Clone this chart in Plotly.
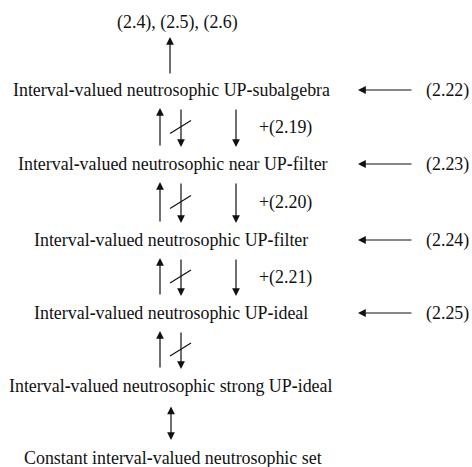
import plotly.graph_objects as go

# ---- data ----
top_label = "(2.4), (2.5), (2.6)"
nodes = [
    "Interval-valued neutrosophic UP-subalgebra",
    "Interval-valued neutrosophic near UP-filter",
    "Interval-valued neutrosophic UP-filter",
    "Interval-valued neutrosophic UP-ideal",
    "Interval-valued neutrosophic strong UP-ideal",
    "Constant interval-valued neutrosophic set",
]
implications = ["+(2.19)", "+(2.20)", "+(2.21)"]
right_refs = ["(2.22)", "(2.23)", "(2.24)", "(2.25)"]

# ---- layout (pixel coordinates) ----
W, H = 472, 467
FONT = dict(family="Liberation Serif", size=17.9, color="#111111")
top_y = 22
top_x = 177
node_y = [90, 164, 240, 313, 386, 458]
node_left = [12, 17, 33, 33, 8, 23]
up_x, cross_x, down_x = 160, 181, 236
imp_x = 258
ref_arrow_tail, ref_arrow_head = 413, 358
ref_right = 470


def bold_hyphen(s):
    return s.replace("-", "<b>-</b>")


fig = go.Figure()
fig.add_trace(go.Scatter(x=[0, W], y=[0, H], mode="markers",
                         marker=dict(opacity=0), hoverinfo="skip", showlegend=False))

ann = []
shapes = []

def text(x, y, s, anchor="left"):
    ann.append(dict(x=x, y=y, xref="x", yref="y", text=bold_hyphen(s), showarrow=False,
                    xanchor=anchor, yanchor="middle", font=FONT, borderpad=0))

def arrow(x0, y0, x1, y1, both=False):
    ann.append(dict(x=x1, y=y1, ax=x0, ay=y0, xref="x", yref="y", axref="x", ayref="y",
                    text="", showarrow=True, arrowhead=2, arrowsize=1.3, arrowwidth=1.2,
                    arrowcolor="#111111", standoff=0, startstandoff=0,
                    arrowside="end+start" if both else "end", startarrowhead=2,
                    startarrowsize=1.3))

text(top_x, top_y, top_label, anchor="center")
arrow(170, node_y[0] - 15, 170, top_y + 15)

for i, s in enumerate(nodes):
    text(node_left[i], node_y[i], s)

for i in range(4):
    ya = node_y[i] + 18
    yb = node_y[i + 1] - 17
    arrow(up_x, yb, up_x, ya)
    arrow(cross_x, ya, cross_x, yb)
    ym = (ya + yb) / 2
    shapes.append(dict(type="line", xref="x", yref="y", x0=cross_x - 11, y0=ym + 6,
                       x1=cross_x + 10, y1=ym - 7, line=dict(color="#111111", width=1.2)))
    if i < 3:
        arrow(down_x, ya, down_x, yb)
        text(imp_x, ym, implications[i])

for i in range(4):
    arrow(ref_arrow_tail, node_y[i], ref_arrow_head, node_y[i])
    text(ref_right, node_y[i], right_refs[i], anchor="right")

arrow(171, node_y[4] + 19, 171, node_y[5] - 18, both=True)

fig.update_layout(
    width=W, height=H, margin=dict(l=0, r=0, t=0, b=0),
    paper_bgcolor="white", plot_bgcolor="white",
    xaxis=dict(range=[0, W], visible=False, fixedrange=True),
    yaxis=dict(range=[H, 0], visible=False, fixedrange=True),
    annotations=ann, shapes=shapes, showlegend=False,
)
fig.write_html("out.html", config={"displayModeBar": False},
               post_script="document.body.style.margin='0';document.body.style.overflow='hidden';")
